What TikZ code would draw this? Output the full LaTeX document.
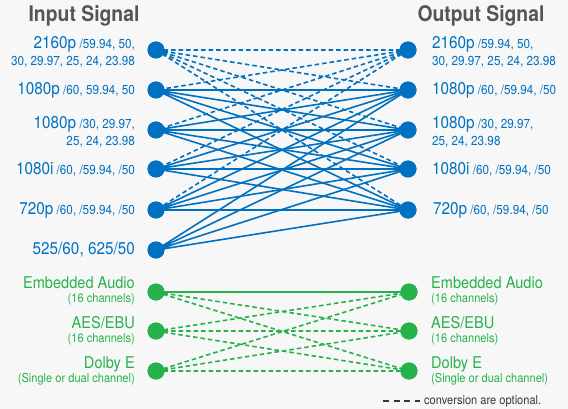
\documentclass[tikz,border=0pt]{standalone}
\usepackage{fontspec}
\setmainfont[FakeStretch=0.9]{TeX Gyre Heros}
\usepackage{tikz}
\usetikzlibrary{positioning}

\definecolor{sigblue}{RGB}{0,112,192}
\definecolor{siggreen}{RGB}{38,178,74}
\definecolor{titlegray}{RGB}{85,85,85}
\definecolor{notegray}{RGB}{55,55,55}
\definecolor{bggray}{RGB}{247,247,247}

\newcommand\fmtbig{\fontsize{17}{17}\selectfont}
\newcommand\fmtsmall{\fontsize{13}{17}\selectfont}
\newcommand\fmtgbig{\fontsize{16.2}{16}\selectfont}
\newcommand\fmtgsmall{\fontsize{12.3}{14.5}\selectfont}

\begin{document}
\begin{tikzpicture}[
  x=1pt, y=-1pt,
  line cap=butt,
  dotB/.style={circle, fill=sigblue, inner sep=0pt, minimum size=17pt},
  dotG/.style={dotB, fill=siggreen},
  linkB/.style={draw=sigblue, line width=1.6pt},
  optB/.style={linkB, dash pattern=on 4.5pt off 3pt},
  linkG/.style={draw=siggreen, line width=1.6pt},
  optG/.style={linkG, dash pattern=on 4.5pt off 3pt},
  lblL/.style={anchor=east, align=right, inner sep=0pt, font=\fmtsmall, text=sigblue},
  lblR/.style={lblL, anchor=west, align=left},
  glblL/.style={lblL, font=\fmtgsmall, text=siggreen},
  glblR/.style={lblR, font=\fmtgsmall, text=siggreen},
  ttl/.style={inner sep=0pt, font=\fontsize{21.5}{22}\selectfont\bfseries, text=titlegray},
]
  \fill[bggray] (0,0) rectangle (568,409);
  \useasboundingbox (0,0) rectangle (568,409);
  % Titles
  \node[ttl] (intitle) at (84,16) {Input Signal};
  \node[ttl] (outtitle) at (481,16) {Output Signal};
  % Video inputs (left)
  \node[dotB] (in1) at (156,50) {};
  \node[dotB] (in2) at (156,90) {};
  \node[dotB] (in3) at (156,130) {};
  \node[dotB] (in4) at (156,169) {};
  \node[dotB] (in5) at (156,210) {};
  \node[dotB] (in6) at (156,250) {};
  % Video outputs (right)
  \node[dotB] (out1) at (408,50) {};
  \node[dotB] (out2) at (408,90) {};
  \node[dotB] (out3) at (408,130) {};
  \node[dotB] (out4) at (408,169) {};
  \node[dotB] (out5) at (408,210) {};
  % Audio in / out
  \node[dotG] (ain1) at (156,292) {};
  \node[dotG] (ain2) at (156,331) {};
  \node[dotG] (ain3) at (156,371) {};
  \node[dotG] (aout1) at (409,292) {};
  \node[dotG] (aout2) at (409,331) {};
  \node[dotG] (aout3) at (409,371) {};
  % Labels, left
  \node[lblL] (in1t) at (135,52) {{\fmtbig 2160p} /59.94, 50,\\30, 29.97, 25, 24, 23.98};
  \node[lblL] (in2t) at (135,90) {{\fmtbig 1080p} /60, 59.94, 50};
  \node[lblL] (in3t) at (135,132) {{\fmtbig 1080p} /30, 29.97,\\25, 24, 23.98};
  \node[lblL] (in4t) at (135,169) {{\fmtbig 1080i} /60, /59.94, /50};
  \node[lblL] (in5t) at (135,210) {{\fmtbig 720p} /60, /59.94, /50};
  \node[lblL, font=\fmtbig] (in6t) at (135,250) {525/60, 625/50};
  \node[glblL] (ain1t) at (135,291) {{\fmtgbig Embedded Audio}\\(16 channels)};
  \node[glblL] (ain2t) at (135,331) {{\fmtgbig AES/EBU}\\(16 channels)};
  \node[glblL] (ain3t) at (135,371) {{\fmtgbig Dolby E}\\(Single or dual channel)};
  % Labels, right
  \node[lblR] (out1t) at (432,52) {{\fmtbig 2160p} /59.94, 50,\\30, 29.97, 25, 24, 23.98};
  \node[lblR] (out2t) at (432,90) {{\fmtbig 1080p} /60, /59.94, /50};
  \node[lblR] (out3t) at (432,132) {{\fmtbig 1080p} /30, 29.97,\\25, 24, 23.98};
  \node[lblR] (out4t) at (432,169) {{\fmtbig 1080i} /60, /59.94, /50};
  \node[lblR] (out5t) at (433,210) {{\fmtbig 720p} /60, /59.94, /50};
  \node[glblR] (aout1t) at (431,291) {{\fmtgbig Embedded Audio}\\(16 channels)};
  \node[glblR] (aout2t) at (431,331) {{\fmtgbig AES/EBU}\\(16 channels)};
  \node[glblR] (aout3t) at (431,371) {{\fmtgbig Dolby E}\\(Single or dual channel)};
  % Optional video conversions (2160p)
  \draw[optB] (in1.center) -- (out1.center) (in1.center) -- (out2.center)
    (in1.center) -- (out3.center) (in1.center) -- (out4.center) (in1.center) -- (out5.center);
  \draw[optB] (out1.center) -- (in2.center) (out1.center) -- (in3.center)
    (out1.center) -- (in4.center) (out1.center) -- (in5.center);
  % Video conversions
  \draw[linkB] (in2.center) -- (out2.center) (in2.center) -- (out3.center)
    (in2.center) -- (out4.center) (in2.center) -- (out5.center);
  \draw[linkB] (in3.center) -- (out2.center) (in3.center) -- (out3.center)
    (in3.center) -- (out4.center) (in3.center) -- (out5.center);
  \draw[linkB] (in4.center) -- (out2.center) (in4.center) -- (out3.center)
    (in4.center) -- (out4.center) (in4.center) -- (out5.center);
  \draw[linkB] (in5.center) -- (out2.center) (in5.center) -- (out3.center)
    (in5.center) -- (out4.center) (in5.center) -- (out5.center);
  \draw[linkB] (in6.center) -- (out2.center) (in6.center) -- (out3.center)
    (in6.center) -- (out4.center) (in6.center) -- (out5.center);
  % Audio
  \draw[linkG] (ain1.center) -- (aout1.center);
  \draw[optG] (ain1.center) -- (aout2.center) (ain1.center) -- (aout3.center);
  \draw[optG] (ain2.center) -- (aout1.center) (ain2.center) -- (aout2.center)
    (ain2.center) -- (aout3.center);
  \draw[optG] (ain3.center) -- (aout1.center) (ain3.center) -- (aout2.center)
    (ain3.center) -- (aout3.center);
  % redraw dots over the lines
  \foreach \n in {in1,in2,in3,in4,in5,in6,out1,out2,out3,out4,out5}
    \fill[sigblue] (\n) circle (8.5pt);
  \foreach \n in {ain1,ain2,ain3,aout1,aout2,aout3}
    \fill[siggreen] (\n) circle (8.5pt);
  % Legend
  \coordinate (legA) at (383,401);
  \coordinate (legB) at (420,401);
  \draw[notegray, line width=1.5pt, dash pattern=on 6pt off 4.5pt] (legA) -- (legB);
  \node[anchor=west, inner sep=0pt, font=\fontsize{12.3}{13}\selectfont, text=notegray] (legtxt) at (424,401) {conversion are optional.};
\end{tikzpicture}
\end{document}
